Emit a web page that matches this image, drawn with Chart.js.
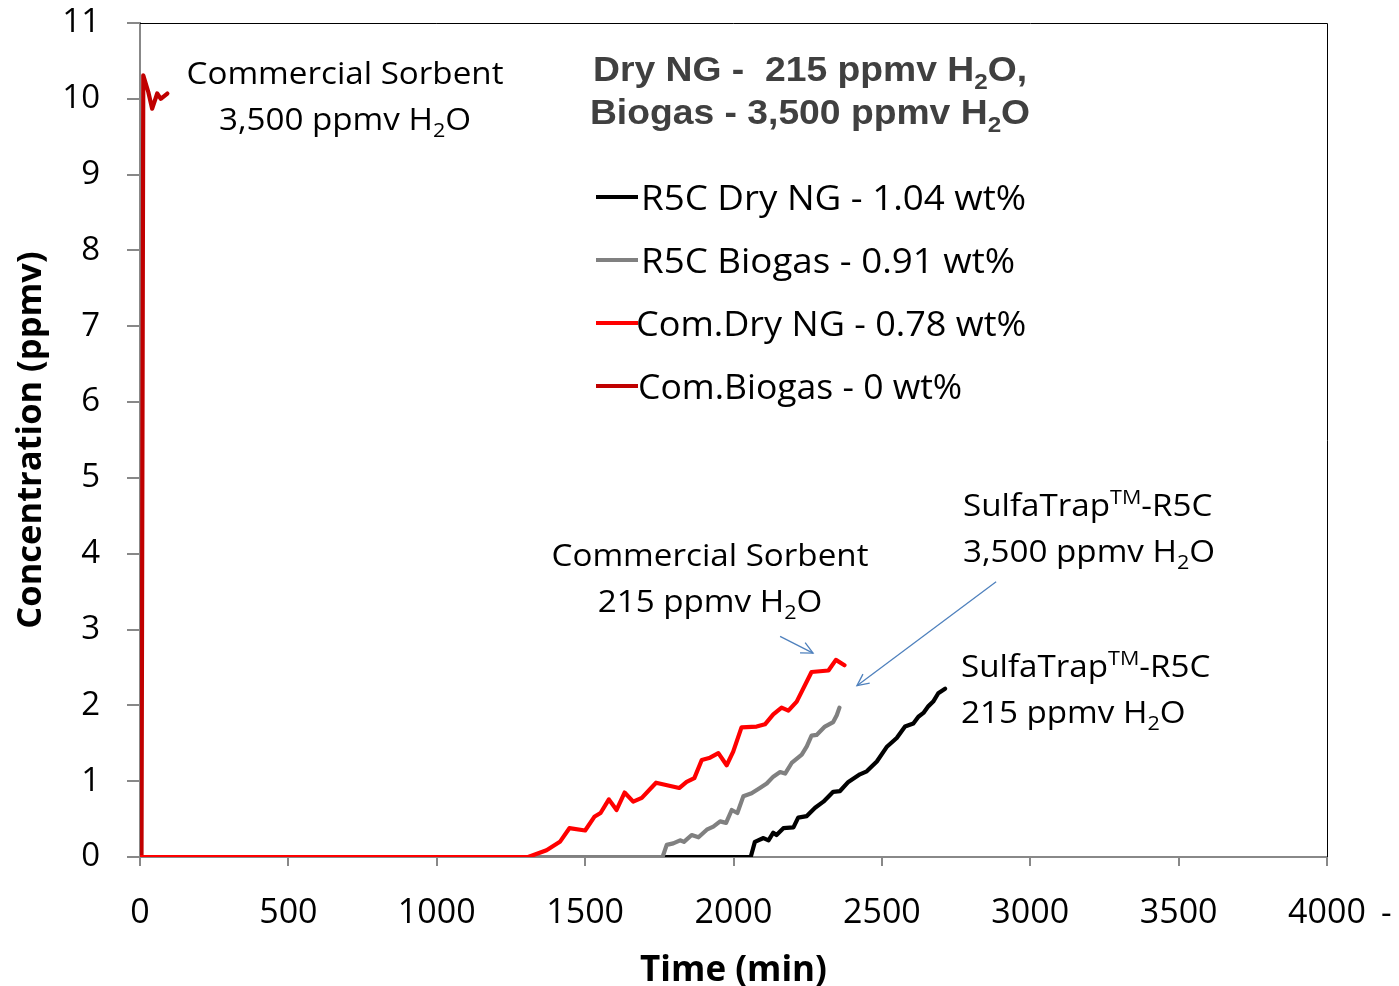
<!DOCTYPE html>
<html><head><meta charset="utf-8">
<script src="https://cdn.jsdelivr.net/npm/chart.js@4.4.0/dist/chart.umd.min.js"></script>
<style>html,body{margin:0;padding:0;background:#fff}canvas{display:block}</style>
</head><body>
<canvas id="c" width="1399" height="986"></canvas>
<script>
// ---- data ----
const seriesLabels = ['R5C Dry NG - 1.04 wt%', 'R5C Biogas - 0.91 wt%', 'Com.Dry NG - 0.78 wt%', 'Com.Biogas - 0 wt%'];
const seriesColors = ['#000000', '#808080', '#FF0000', '#C00000'];

const r5cDryTime = [0, 2058, 2072, 2101, 2118, 2134, 2145, 2168, 2202, 2218, 2247, 2275, 2303, 2336, 2359, 2387, 2426, 2449, 2483, 2516, 2550, 2578, 2606, 2623, 2640, 2657, 2673, 2690, 2713];
const r5cDryConc = [0, 0, 0.20, 0.25, 0.22, 0.32, 0.29, 0.38, 0.39, 0.52, 0.54, 0.65, 0.73, 0.86, 0.87, 0.99, 1.09, 1.13, 1.26, 1.45, 1.57, 1.72, 1.76, 1.85, 1.90, 1.99, 2.05, 2.16, 2.22];

const r5cBioTime = [0, 1761, 1775, 1797, 1820, 1833, 1859, 1882, 1910, 1932, 1955, 1975, 1994, 2013, 2033, 2061, 2089, 2112, 2134, 2157, 2174, 2196, 2230, 2247, 2263, 2280, 2308, 2336, 2348, 2357];
const r5cBioConc = [0, 0, 0.16, 0.18, 0.22, 0.20, 0.29, 0.26, 0.36, 0.40, 0.47, 0.45, 0.62, 0.58, 0.80, 0.84, 0.91, 0.97, 1.06, 1.12, 1.10, 1.24, 1.35, 1.46, 1.60, 1.61, 1.72, 1.78, 1.87, 1.97];

const comDryTime = [0, 1308, 1370, 1415, 1447, 1500, 1531, 1552, 1580, 1606, 1633, 1662, 1691, 1739, 1817, 1842, 1868, 1893, 1921, 1949, 1977, 1999, 2027, 2078, 2106, 2134, 2162, 2185, 2213, 2263, 2320, 2345, 2374];
const comDryConc = [0, 0, 0.09, 0.20, 0.38, 0.35, 0.53, 0.58, 0.76, 0.62, 0.85, 0.73, 0.78, 0.98, 0.91, 0.99, 1.04, 1.28, 1.31, 1.37, 1.21, 1.39, 1.71, 1.72, 1.75, 1.88, 1.97, 1.93, 2.05, 2.44, 2.46, 2.60, 2.53];

const comBioTime = [5, 11, 28, 41, 58, 70, 92];
const comBioConc = [0, 10.31, 10.09, 9.87, 10.07, 10.00, 10.07];

const xTickValues = [0, 500, 1000, 1500, 2000, 2500, 3000, 3500, 4000];
const yTickValues = [0, 1, 2, 3, 4, 5, 6, 7, 8, 9, 10, 11];

const xTitle = 'Time (min)';
const yTitle = 'Concentration (ppmv)';

// ---- build ----
const zip = (t, v) => t.map((x, i) => ({ x: x, y: v[i] }));
const seriesPts = [zip(r5cDryTime, r5cDryConc), zip(r5cBioTime, r5cBioConc), zip(comDryTime, comDryConc), zip(comBioTime, comBioConc)];
const drawOrder = [3, 2, 0, 1];

const TXT = '"Open Sans", sans-serif';
const ARIAL = '"Liberation Sans", Arial, sans-serif';

function drawRich(ctx, segs, x, y, align, size, weight, family, color, sx) {
  sx = sx || 1;
  const fnt = (s) => `${weight} ${s}px ${family}`;
  let w = 0;
  segs.forEach(([t, m]) => { ctx.font = fnt(m ? size * 0.65 : size); w += ctx.measureText(t).width; });
  w *= sx;
  let x0 = align === 'center' ? x - w / 2 : (align === 'right' ? x - w : x);
  ctx.save();
  ctx.translate(x0, y);
  ctx.scale(sx, 1);
  ctx.fillStyle = color;
  ctx.textBaseline = 'alphabetic';
  ctx.textAlign = 'left';
  let cx = 0;
  segs.forEach(([t, m]) => {
    const s = m ? size * 0.65 : size;
    ctx.font = fnt(s);
    const dy = m === 1 ? size * 0.22 : (m === 2 ? -size * 0.38 : 0);
    ctx.fillText(t, cx, dy);
    cx += ctx.measureText(t).width;
  });
  ctx.restore();
}

function arrow(ctx, x1, y1, x2, y2) {
  ctx.save();
  ctx.strokeStyle = '#4F81BD';
  ctx.lineWidth = 1.3;
  ctx.beginPath(); ctx.moveTo(x1, y1); ctx.lineTo(x2, y2); ctx.stroke();
  const a = Math.atan2(y2 - y1, x2 - x1), L = 13, s = 0.45;
  ctx.beginPath();
  ctx.moveTo(x2 - L * Math.cos(a - s), y2 - L * Math.sin(a - s));
  ctx.lineTo(x2, y2);
  ctx.lineTo(x2 - L * Math.cos(a + s), y2 - L * Math.sin(a + s));
  ctx.stroke();
  ctx.restore();
}

const overlay = {
  id: 'overlay',
  afterDraw(chart) {
    const ctx = chart.ctx, ca = chart.chartArea, xs = chart.scales.x, ys = chart.scales.y;
    ctx.save();
    // frame top/right
    ctx.strokeStyle = '#000'; ctx.lineWidth = 1;
    ctx.beginPath(); ctx.moveTo(ca.left, ca.top + 0.5); ctx.lineTo(ca.right + 0.5, ca.top + 0.5); ctx.lineTo(ca.right + 0.5, ca.bottom); ctx.stroke();

    // title block
    drawRich(ctx, [['Dry NG -  215 ppmv H', 0], ['2', 1], ['O,', 0]], 810, 81, 'center', 35, 'bold', ARIAL, '#404040', 1.065);
    drawRich(ctx, [['Biogas - 3,500 ppmv H', 0], ['2', 1], ['O', 0]], 810, 124, 'center', 35, 'bold', ARIAL, '#404040', 1.065);

    // legend
    const ly = [197, 260, 323, 386];
    const lx = [641, 641, 636, 638];
    const lsx = [1.08, 1.08, 1.06, 1.045];
    seriesLabels.forEach((lab, i) => {
      ctx.strokeStyle = seriesColors[i]; ctx.lineWidth = 4;
      ctx.beginPath(); ctx.moveTo(596, ly[i]); ctx.lineTo(638, ly[i]); ctx.stroke();
      drawRich(ctx, [[lab, 0]], lx[i], ly[i] + 13, 'left', 34, 'normal', TXT, '#000', lsx[i]);
    });

    // annotations
    const A = 31, S = 1.07;
    drawRich(ctx, [['Commercial Sorbent', 0]], 345, 84, 'center', A, 'normal', TXT, '#000', S);
    drawRich(ctx, [['3,500 ppmv H', 0], ['2', 1], ['O', 0]], 345, 130, 'center', A, 'normal', TXT, '#000', S);
    drawRich(ctx, [['Commercial Sorbent', 0]], 710, 566, 'center', A, 'normal', TXT, '#000', S);
    drawRich(ctx, [['215 ppmv H', 0], ['2', 1], ['O', 0]], 710, 612, 'center', A, 'normal', TXT, '#000', S);
    drawRich(ctx, [['SulfaTrap', 0], ['TM', 2], ['-R5C', 0]], 963, 516, 'left', A, 'normal', TXT, '#000', S);
    drawRich(ctx, [['3,500 ppmv H', 0], ['2', 1], ['O', 0]], 963, 562, 'left', A, 'normal', TXT, '#000', S);
    drawRich(ctx, [['SulfaTrap', 0], ['TM', 2], ['-R5C', 0]], 961, 677, 'left', A, 'normal', TXT, '#000', S);
    drawRich(ctx, [['215 ppmv H', 0], ['2', 1], ['O', 0]], 961, 723, 'left', A, 'normal', TXT, '#000', S);

    // arrows (anchored in data coordinates)
    arrow(ctx, xs.getPixelForValue(2157), ys.getPixelForValue(2.91), xs.getPixelForValue(2268), ys.getPixelForValue(2.69));
    arrow(ctx, xs.getPixelForValue(2885), ys.getPixelForValue(3.63), xs.getPixelForValue(2416), ys.getPixelForValue(2.26));

    // stray dash after last x label
    drawRich(ctx, [['-', 0]], 1381, 924, 'left', 33, 'normal', TXT, '#000');
    ctx.restore();
  }
};

new Chart(document.getElementById('c'), {
  type: 'scatter',
  data: {
    datasets: seriesPts.map((pts, i) => ({
      label: seriesLabels[i],
      data: pts,
      showLine: true,
      borderColor: seriesColors[i],
      backgroundColor: seriesColors[i],
      borderWidth: 4.2,
      borderJoinStyle: 'round',
      borderCapStyle: 'round',
      pointRadius: 0,
      tension: 0,
      order: drawOrder[i]
    }))
  },
  options: {
    responsive: false,
    animation: false,
    layout: { padding: { left: 0, top: 23, right: 72, bottom: 0 } },
    plugins: { legend: { display: false }, tooltip: { enabled: false } },
    scales: {
      x: {
        type: 'linear', min: 0, max: 4000,
        afterBuildTicks: (s) => { s.ticks = xTickValues.map(v => ({ value: v })); },
        afterFit: (s) => { s.height = 129; s.paddingLeft = 0; s.paddingRight = 0; },
        grid: { drawOnChartArea: false, drawTicks: true, tickLength: 9, color: '#888', lineWidth: 2 },
        border: { color: '#888', width: 2 },
        ticks: { color: '#000', font: { family: TXT, size: 34 }, padding: 27, maxRotation: 0, callback: (v) => String(v) },
        title: { display: true, text: xTitle, color: '#000', font: { family: TXT, size: 35, weight: 'bold' }, padding: { top: 0, bottom: -6 } }
      },
      y: {
        type: 'linear', min: 0, max: 11,
        afterBuildTicks: (s) => { s.ticks = yTickValues.map(v => ({ value: v })); },
        afterFit: (s) => { s.width = 140; s.paddingTop = 0; s.paddingBottom = 0; },
        grid: { drawOnChartArea: false, drawTicks: true, tickLength: 13, color: '#888', lineWidth: 2 },
        border: { color: '#888', width: 2 },
        ticks: { color: '#000', font: { family: TXT, size: 33 }, padding: 27, callback: (v) => String(v) },
        title: { display: true, text: yTitle, color: '#000', font: { family: TXT, size: 34.5, weight: 'bold' }, padding: { top: 10, bottom: 0 } }
      }
    }
  },
  plugins: [overlay]
});
</script>
</body></html>
